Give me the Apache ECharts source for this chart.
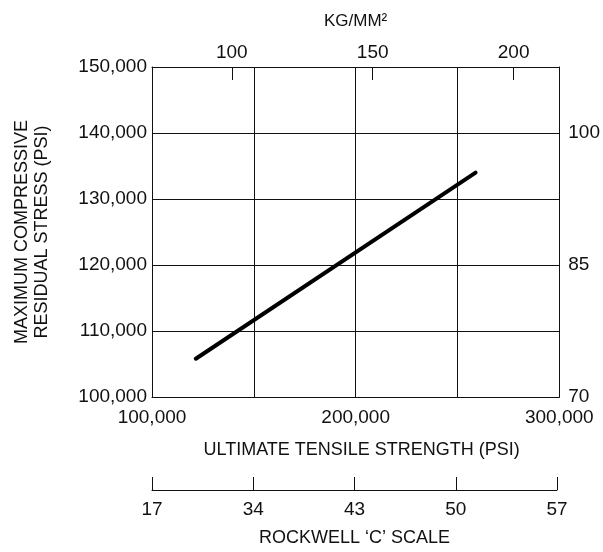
<!DOCTYPE html>
<html>
<head>
<meta charset="utf-8">
<script src="https://cdn.jsdelivr.net/npm/echarts@6/dist/echarts.min.js"></script>
<style>
  html, body { margin: 0; padding: 0; background: #fff; }
  #chart { width: 603px; height: 552px; }
</style>
</head>
<body>
<div id="chart"></div>
<script>
// ultimate tensile strength (psi) vs max compressive residual stress (psi)
const tensilePsi = [121500, 258900];
const residualPsi = [105800, 134000];
const kgLabels = [100, 150, 200];
const hrcLabels = [70, 85, 100];
const rockwellC = ['17', '34', '43', '50', '57'];

const font = "'Liberation Sans', Arial, sans-serif";
const ink = '#111';

const chart = echarts.init(document.getElementById('chart'));
chart.setOption({
    backgroundColor: '#fff',
    animation: false,
    textStyle: { fontFamily: font, color: ink },
    grid: [
        { left: 152, right: 42, top: 67, bottom: 155 },
        { left: 152, right: 46, top: 489, height: 1 }
    ],
    xAxis: [
        {
            type: 'value', gridIndex: 0, position: 'bottom',
            min: 100000, max: 300000, interval: 50000,
            name: 'ULTIMATE TENSILE STRENGTH (PSI)',
            nameLocation: 'middle', nameGap: 44,
            nameTextStyle: { fontSize: 18, color: ink, fontFamily: font, padding: [0, 0, 0, 12] },
            axisLine: { lineStyle: { color: ink, width: 1 } },
            axisTick: { show: false },
            splitLine: { show: true, lineStyle: { color: ink, width: 1 } },
            axisLabel: {
                fontSize: 19, color: ink, margin: 11,
                formatter: v => (v % 100000 === 0 ? v.toLocaleString('en-US') : '')
            }
        },
        {
            type: 'value', gridIndex: 0, position: 'top',
            min: 71.7, max: 216.2,
            name: 'KG/MM²',
            nameLocation: 'middle', nameGap: 37,
            nameTextStyle: { fontSize: 17, color: ink, fontFamily: font },
            axisLine: { show: true, lineStyle: { color: ink, width: 1 } },
            axisTick: { show: true, inside: true, length: 13, customValues: kgLabels, lineStyle: { color: ink } },
            splitLine: { show: false },
            axisLabel: { fontSize: 19, color: ink, margin: 5, customValues: kgLabels }
        },
        {
            type: 'category', gridIndex: 1, position: 'bottom',
            data: rockwellC, boundaryGap: false,
            name: 'ROCKWELL ‘C’ SCALE',
            nameLocation: 'middle', nameGap: 39,
            nameTextStyle: { fontSize: 18, color: ink, fontFamily: font },
            axisLine: { lineStyle: { color: ink, width: 1 } },
            axisTick: { show: true, inside: true, length: 13, lineStyle: { color: ink } },
            splitLine: { show: false },
            axisLabel: { fontSize: 19, color: ink, margin: 10, interval: 0 }
        }
    ],
    yAxis: [
        {
            type: 'value', gridIndex: 0, position: 'left',
            min: 100000, max: 150000, interval: 10000,
            name: 'MAXIMUM COMPRESSIVE\nRESIDUAL STRESS (PSI)',
            nameLocation: 'middle', nameGap: 100,
            nameTextStyle: { fontSize: 18, color: ink, fontFamily: font, lineHeight: 20 },
            axisLine: { show: true, lineStyle: { color: ink, width: 1 } },
            axisTick: { show: false },
            splitLine: { show: true, lineStyle: { color: ink, width: 1 } },
            axisLabel: { fontSize: 19, color: ink, margin: 5, formatter: v => v.toLocaleString('en-US') }
        },
        {
            type: 'value', gridIndex: 0, position: 'right',
            min: 70, max: 107.5,
            axisLine: { show: true, lineStyle: { color: ink, width: 1 } },
            axisTick: { show: false },
            splitLine: { show: false },
            axisLabel: { fontSize: 19, color: ink, margin: 9, customValues: hrcLabels }
        },
        {
            type: 'value', gridIndex: 1, show: false
        }
    ],
    series: [
        {
            type: 'line',
            xAxisIndex: 0, yAxisIndex: 0,
            data: tensilePsi.map((x, i) => [x, residualPsi[i]]),
            symbol: 'none',
            lineStyle: { color: '#000', width: 4, cap: 'round' },
            silent: true
        }
    ]
});
</script>
</body>
</html>
